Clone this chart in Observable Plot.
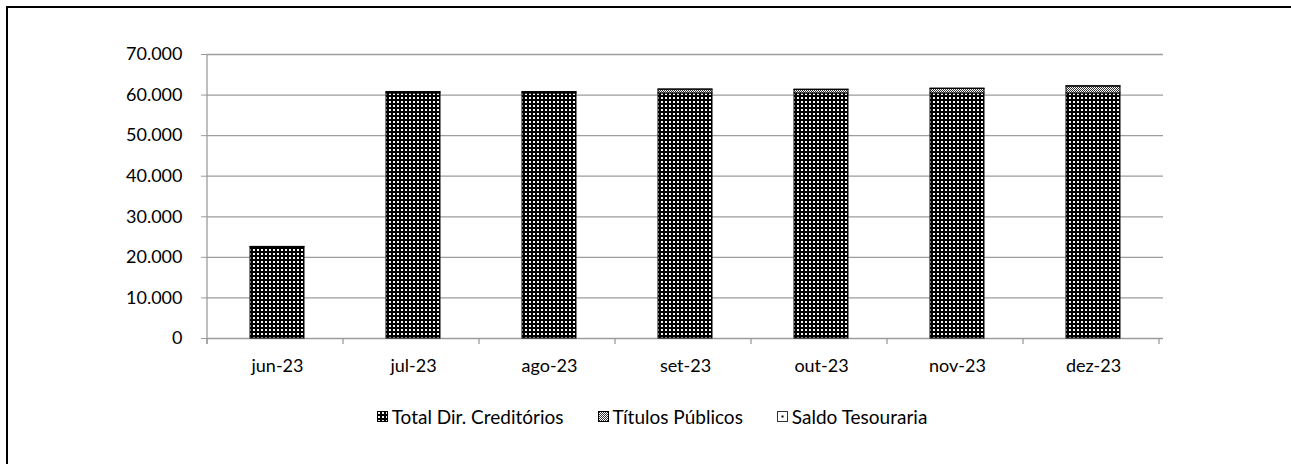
<!DOCTYPE html>
<html>
<head>
<meta charset="utf-8">
<script src="https://cdn.jsdelivr.net/npm/d3@7"></script>
<script src="https://cdn.jsdelivr.net/npm/@observablehq/plot@0.6"></script>
<style>
  html, body { margin: 0; padding: 0; background: #fff; overflow: hidden; width: 1291px; height: 464px; }
  #frame { position: absolute; left: 6px; top: 6px; width: 1285px; height: 458px; border-left: 2px solid #000; border-top: 2px solid #000; box-sizing: border-box; pointer-events: none; }
  #chart { position: absolute; left: 0; top: 0; }
  #legend { position: absolute; left: 0; top: 404px; width: 1291px; box-sizing: border-box; padding-left: 13px; height: 24px; display: flex; justify-content: center; align-items: center; font-family: Lato, sans-serif; font-size: 19px; color: #000; }
  .item { display: flex; align-items: center; margin: 0 17px; }
  .item svg { margin-right: 4px; }
</style>
</head>
<body>
<svg width="0" height="0" style="position:absolute">
  <defs>
    <pattern id="pDC" width="4" height="4" patternUnits="userSpaceOnUse">
      <rect width="4" height="4" fill="#000"/>
      <rect x="1" y="1" width="2" height="2" fill="#f4f4f4"/>
    </pattern>
    <pattern id="pTP" width="2" height="2" patternUnits="userSpaceOnUse">
      <rect width="2" height="2" fill="#fff"/>
      <rect x="0" y="0" width="1" height="1" fill="#333"/>
      <rect x="1" y="1" width="1" height="1" fill="#333"/>
    </pattern>
    <pattern id="pST" width="4" height="4" patternUnits="userSpaceOnUse">
      <rect width="4" height="4" fill="#fff"/>
    </pattern>
  </defs>
</svg>
<div id="chart"></div>
<div id="legend"></div>
<div id="frame"></div>
<script>
// ---- data ----
const months = ["jun-23", "jul-23", "ago-23", "set-23", "out-23", "nov-23", "dez-23"];
const seriesNames = ["Total Dir. Creditórios", "Títulos Públicos", "Saldo Tesouraria"];
const dirCreditorios = [22500, 60400, 60400, 60400, 60400, 60400, 60400];
const titulosPublicos = [0, 250, 250, 900, 850, 1100, 1700];
const saldoTesouraria = [80, 100, 100, 100, 100, 100, 100];
const yTicks = [0, 10000, 20000, 30000, 40000, 50000, 60000, 70000];
const patterns = ["url(#pDC)", "url(#pTP)", "url(#pST)"];

const table = [];
months.forEach((m, i) => {
  table.push({month: m, series: seriesNames[0], value: dirCreditorios[i]});
  table.push({month: m, series: seriesNames[1], value: titulosPublicos[i]});
  table.push({month: m, series: seriesNames[2], value: saldoTesouraria[i]});
});

const fmt = d => d3.format(",")(d).replace(/,/g, ".");
const gridColor = "#9c9c9c";

const plot = Plot.plot({
  width: 1291,
  height: 390,
  marginTop: 54,
  marginBottom: 52,
  marginLeft: 207,
  marginRight: 128,
  style: {fontFamily: "Lato, sans-serif", fontSize: "18px", color: "#000", background: "transparent"},
  x: {type: "band", domain: months, paddingInner: 0.6, paddingOuter: 0.3, label: null},
  y: {domain: [0, 70000], label: null},
  color: {domain: seriesNames, range: patterns},
  marks: [
    Plot.ruleY(yTicks, {stroke: gridColor, strokeWidth: 1.3}),
    Plot.axisY({ticks: yTicks, tickFormat: fmt, tickSize: 6, tickPadding: 19, stroke: gridColor, strokeOpacity: 1, fontSize: 18, label: null}),
    Plot.axisX({tickSize: 0, tickPadding: 21, fontSize: 18, label: null}),
    Plot.barY(table, {x: "month", y: "value", fill: "series", stroke: "#000", strokeWidth: 1})
  ]
});
document.getElementById("chart").appendChild(plot);

// axis line and category boundary ticks from the plot's own scales
const xs = plot.scale("x");
const ys = plot.scale("y");
const r0 = xs.range[0], r1 = xs.range[1];
const step = xs.step || (r1 - r0) / months.length;
const y0 = ys.range[0], yTop = ys.range[1];
const svg = d3.select(plot);
const g = svg.append("g").attr("stroke", gridColor).attr("stroke-width", 1.3);
g.append("line").attr("x1", r0).attr("x2", r0).attr("y1", yTop).attr("y2", y0 + 6);
d3.range(months.length + 1).forEach(i => {
  const x = r0 + i * step;
  g.append("line").attr("x1", x).attr("x2", x).attr("y1", y0).attr("y2", y0 + 6);
});

// legend
const legend = d3.select("#legend");
seriesNames.forEach((name, i) => {
  const item = legend.append("div").attr("class", "item");
  const s = item.append("svg").attr("width", 11).attr("height", 11);
  s.append("rect").attr("x", 0.5).attr("y", 0.5).attr("width", 10).attr("height", 10)
    .attr("fill", patterns[i]).attr("stroke", i === 2 ? "#333" : "#000").attr("stroke-width", 1);
  if (i === 2) s.append("rect").attr("x", 4.5).attr("y", 4.5).attr("width", 2).attr("height", 2).attr("fill", "#000");
  item.append("span").text(name);
});
</script>
</body>
</html>
